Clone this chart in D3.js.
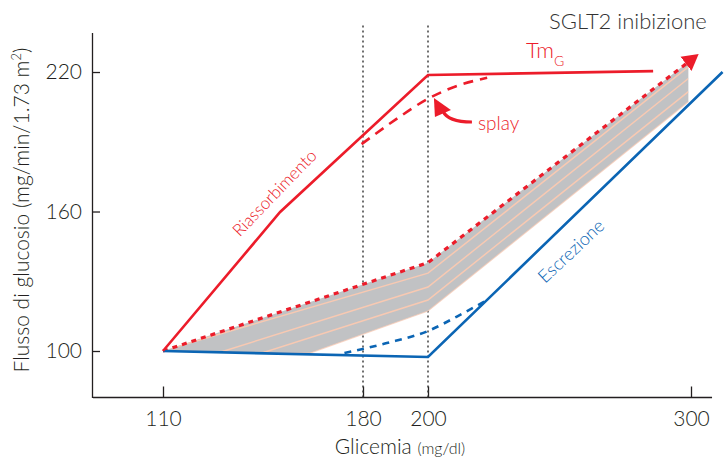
<!DOCTYPE html>
<html>
  <head>
    <script src="https://cdn.jsdelivr.net/npm/d3@7"></script>
    <style>
      body { margin: 0; background: #fff; }
      text { font-family: Lato, "Open Sans", sans-serif; font-weight: 300; }
    </style>
  </head>
  <body>
    <svg id="sglt2" width="727" height="464"></svg>
    <script>
      // ticks
      var xTicks = [110, 180, 200, 300];
      var yTicks = [100, 160, 220];
      var guideX = [180, 200];

      // riassorbimento (Tm_G) e splay
      var reabsX = [110, 151, 200, 285.6];
      var reabsY = [100, 159.8, 218.7, 220.4];
      var splayX = [179.5, 190, 200, 211, 222.5];
      var splayY = [189, 199.5, 208.5, 214, 217.5];

      // escrezione
      var excrX = [110, 200, 312];
      var excrY = [100, 97.4, 220];
      var excrSplayX = [173.5, 187, 200, 211, 222.4];
      var excrSplayY = [99.1, 103.3, 108.6, 114.8, 121.9];

      // fascia SGLT2
      var upperX = [110, 200, 299];
      var upperY = [100, 138, 224.3];
      var lowerX = [110, 161.5, 200, 299];
      var lowerY = [100, 99.1, 117.2, 207.2];
      var hatchX = [[113, 200, 299], [130, 200, 299], [143, 200, 299]];
      var hatchY = [[101.2, 133.5, 222.2], [99.5, 127.5, 217.2], [98.5, 121.9, 211.6]];

      var red = "#ec1c2a", blue = "#0b65b4", grey = "#c1c2c4", pink = "#f8c9b2", ink = "#231f20";

      var svg = d3.select("#sglt2");
      var x = d3.scaleLinear().domain(xTicks).range([163, 363, 428, 691]);
      var y = d3.scaleLinear().domain([80, 237]).range([397.5, 32.5]);

      function pts(xs, ys) { return xs.map(function(v, i){ return [x(v), y(ys[i])]; }); }
      var line = d3.line();
      var curve = d3.line().curve(d3.curveMonotoneX);

      // axes
      var yAxis = d3.axisLeft(y).tickValues(yTicks).tickSize(-8).tickSizeOuter(0).tickPadding(10);
      var gy = svg.append("g").attr("transform", "translate(92,0)").call(yAxis);
      var xAxis = d3.axisBottom(x).tickValues(xTicks).tickSize(-11).tickSizeOuter(0).tickPadding(14);
      var gx = svg.append("g").attr("transform", "translate(0," + y(80) + ")").call(xAxis);
      gx.select(".domain").remove();
      gx.append("line").attr("x1", x(85.5)).attr("x2", x(308)).attr("stroke", ink).attr("stroke-width", 1.3);
      [gx, gy].forEach(function(g){
        g.selectAll("line").attr("stroke", ink).attr("stroke-width", 1.3);
        g.select(".domain").attr("stroke", ink).attr("stroke-width", 1.3);
        g.selectAll("text").attr("fill", ink).style("font-size", "21px")
          .style("font-family", "Lato, sans-serif").style("font-weight", 300);
      });

      // vertical guides
      svg.selectAll(".guide").data(guideX).enter().append("line")
        .attr("x1", function(d){ return x(d); }).attr("x2", function(d){ return x(d); })
        .attr("y1", y(80)).attr("y2", y(240))
        .attr("stroke", "#333").attr("stroke-width", 1.4).attr("stroke-dasharray", "2,3");

      // band
      var bandPts = pts(upperX, upperY).concat(pts(lowerX, lowerY).reverse());
      svg.append("clipPath").attr("id", "bandClip").append("path").attr("d", line(bandPts) + "Z");
      svg.append("path").attr("d", line(bandPts) + "Z").attr("fill", grey);
      svg.append("path").attr("d", line(pts(lowerX, lowerY))).attr("fill", "none")
        .attr("stroke", pink).attr("stroke-width", 1.2).attr("opacity", 0.7);
      svg.append("g").attr("clip-path", "url(#bandClip)").selectAll("path")
        .data(hatchX).enter().append("path")
        .attr("d", function(d, i){ return line(pts(d, hatchY[i])); })
        .attr("fill", "none").attr("stroke", pink).attr("stroke-width", 1.5);

      // arrow marker
      svg.append("defs").append("marker").attr("id", "head")
        .attr("markerUnits", "userSpaceOnUse").attr("viewBox", "0 -10 16 20")
        .attr("markerWidth", 16).attr("markerHeight", 20).attr("refX", 3).attr("refY", 0)
        .attr("orient", "auto")
        .append("path").attr("d", "M0,-9L16,0L0,9Z").attr("fill", red);

      svg.append("path").attr("d", line(pts(upperX, upperY))).attr("fill", "none")
        .attr("stroke", red).attr("stroke-width", 3.2).attr("stroke-dasharray", "5,5")
        .attr("marker-end", "url(#head)");

      // escrezione
      svg.append("path").attr("d", curve(pts(excrSplayX, excrSplayY))).attr("fill", "none")
        .attr("stroke", blue).attr("stroke-width", 2.6).attr("stroke-dasharray", "7,6");
      svg.append("path").attr("d", line(pts(excrX, excrY))).attr("fill", "none")
        .attr("stroke", blue).attr("stroke-width", 2.6);

      // riassorbimento
      svg.append("path").attr("d", curve(pts(splayX, splayY))).attr("fill", "none")
        .attr("stroke", red).attr("stroke-width", 2.6).attr("stroke-dasharray", "10,7");
      svg.append("path").attr("d", line(pts(reabsX, reabsY))).attr("fill", "none")
        .attr("stroke", red).attr("stroke-width", 2.6);

      // splay arrow
      var sx = x(216.7), sy = y(198.5);
      svg.append("path").attr("d", "M" + sx + "," + sy + "Q" + (sx - 24) + "," + sy + " " + (sx - 29) + "," + (sy - 11))
        .attr("fill", "none").attr("stroke", red).attr("stroke-width", 3.2);
      svg.append("path").attr("d", "M" + (sx - 38) + "," + (sy - 24) + "L" + (sx - 21) + "," + (sy - 12) + "L" + (sx - 37) + "," + (sy - 5) + "Z")
        .attr("fill", red);

      // labels
      svg.append("text").attr("x", x(219)).attr("y", y(195)).attr("fill", red)
        .style("font-size", "19px").text("splay");
      var tm = svg.append("text").attr("x", x(237.3)).attr("y", y(226)).attr("fill", red).style("font-size", "22px");
      tm.append("tspan").text("Tm");
      tm.append("tspan").attr("dy", 8).style("font-size", "14px").text("G");
      svg.append("text").attr("x", x(306)).attr("y", y(238.5)).attr("text-anchor", "end")
        .attr("fill", "#333").style("font-size", "22px").text("SGLT2 inibizione");
      svg.append("text").attr("transform", "translate(" + x(149) + "," + y(168) + ") rotate(-46)")
        .attr("text-anchor", "middle").attr("dy", "0.35em").attr("fill", red)
        .style("font-size", "17px").text("Riassorbimento");
      svg.append("text").attr("transform", "translate(" + x(254.4) + "," + y(143) + ") rotate(-43)")
        .attr("text-anchor", "middle").attr("dy", "0.35em").attr("fill", blue)
        .style("font-size", "18px").text("Escrezione");

      // axis titles
      var xt = svg.append("text").attr("x", 400).attr("y", 454).attr("text-anchor", "middle")
        .attr("fill", ink).style("font-size", "21px");
      xt.append("tspan").text("Glicemia ");
      xt.append("tspan").style("font-size", "16px").text("(mg/dl)");
      var yt = svg.append("text").attr("transform", "translate(29,210) rotate(-90)")
        .attr("text-anchor", "middle").attr("fill", ink).style("font-size", "21px");
      yt.append("tspan").text("Flusso di glucosio (mg/min/1.73 m");
      yt.append("tspan").attr("dy", -8).style("font-size", "13px").text("2");
      yt.append("tspan").attr("dy", 8).text(")");
    </script>
  </body>
</html>
